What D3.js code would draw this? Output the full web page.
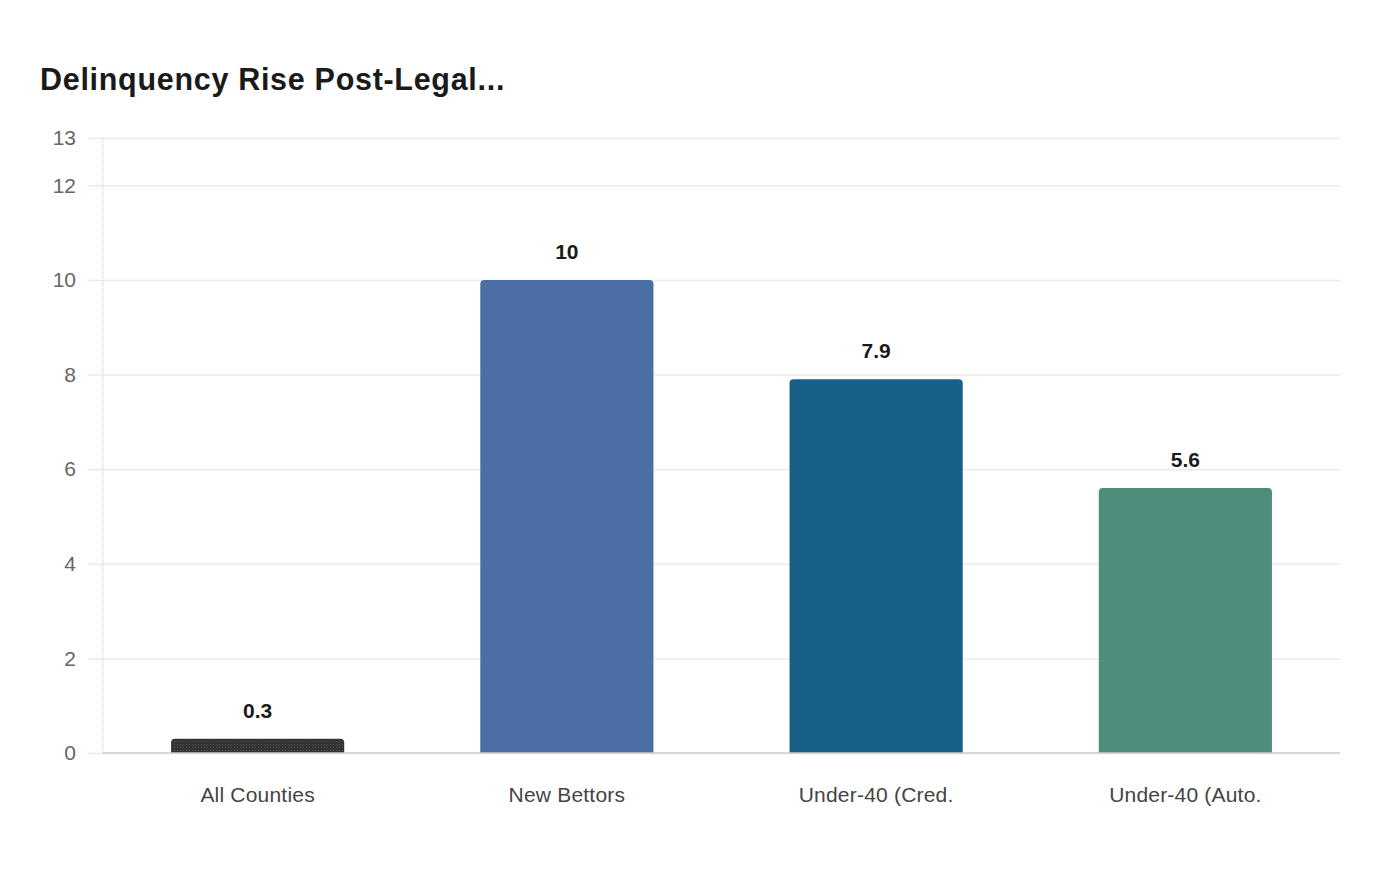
<!DOCTYPE html>
<html>
<head>
<meta charset="utf-8">
<script src="https://cdn.jsdelivr.net/npm/d3@7"></script>
<style>
  body { margin: 0; background: #fff; font-family: "Liberation Sans", Arial, sans-serif; }
</style>
</head>
<body>
<div id="chart"></div>
<script>
// data
const categories = ['All Counties', 'New Bettors', 'Under-40 (Cred.', 'Under-40 (Auto.'];
const values = [0.3, 10, 7.9, 5.6];
const barColors = ['#333333', '#4a6fa5', '#176087', '#4e8d7c'];
const yTicks = [0, 2, 4, 6, 8, 10, 12, 13];

const width = 1400;
const height = 880;
const margin = { top: 138, right: 60, bottom: 127, left: 103 };

const svg = d3.select('#chart').append('svg')
  .attr('width', width)
  .attr('height', height);

// dotted pattern for the dark bar
const defs = svg.append('defs');
const pat = defs.append('pattern')
  .attr('id', 'dots')
  .attr('width', 3)
  .attr('height', 3)
  .attr('patternUnits', 'userSpaceOnUse');
pat.append('rect').attr('width', 3).attr('height', 3).attr('fill', '#333333');
pat.append('rect').attr('width', 1).attr('height', 1).attr('fill', '#555555');

svg.append('text')
  .attr('x', 40)
  .attr('y', 90)
  .attr('font-size', 30.5)
  .attr('font-weight', 'bold')
  .attr('letter-spacing', 0.7)
  .attr('fill', '#1a1a1a')
  .text('Delinquency Rise Post-Legal...');

const x = d3.scaleBand()
  .domain(categories)
  .range([margin.left, width - margin.right])
  .paddingInner(0.44)
  .paddingOuter(0.22);

const y = d3.scaleLinear()
  .domain([0, 13])
  .range([height - margin.bottom, margin.top]);

// gridlines + y tick labels
const yAxis = svg.append('g')
  .attr('transform', `translate(${margin.left},0)`)
  .call(d3.axisLeft(y)
    .tickValues(yTicks)
    .tickSize(-(width - margin.right - margin.left) - 15)
    .tickPadding(12)
    .tickFormat(d3.format('d')));
yAxis.select('.domain').remove();
yAxis.selectAll('.tick line')
  .attr('transform', 'translate(-15,0)')
  .attr('stroke', '#ebebeb')
  .attr('stroke-width', 1.5);
yAxis.selectAll('.tick text')
  .attr('x', -27)
  .attr('font-size', 21)
  .attr('font-family', '"Liberation Sans", Arial, sans-serif')
  .attr('fill', '#666');

// vertical axis line
svg.append('line')
  .attr('x1', margin.left).attr('x2', margin.left)
  .attr('y1', y(13)).attr('y2', y(0))
  .attr('stroke', '#cccccc')
  .attr('stroke-dasharray', '1,1');

// bars with rounded top corners
const r = 4;
function barPath(x0, y0, w, h) {
  const rr = Math.min(r, h, w / 2);
  return `M${x0},${y0 + h}V${y0 + rr}Q${x0},${y0} ${x0 + rr},${y0}` +
    `H${x0 + w - rr}Q${x0 + w},${y0} ${x0 + w},${y0 + rr}V${y0 + h}Z`;
}

const data = categories.map((c, i) => ({ cat: c, value: values[i], color: barColors[i], i: i }));

svg.selectAll('.bar')
  .data(data)
  .enter().append('path')
  .attr('class', 'bar')
  .attr('d', d => barPath(x(d.cat), y(d.value), x.bandwidth(), y(0) - y(d.value)))
  .attr('fill', d => d.i === 0 ? 'url(#dots)' : d.color);

// value labels
svg.selectAll('.val')
  .data(data)
  .enter().append('text')
  .attr('class', 'val')
  .attr('x', d => x(d.cat) + x.bandwidth() / 2)
  .attr('y', d => y(d.value) - 21)
  .attr('text-anchor', 'middle')
  .attr('font-size', 21)
  .attr('font-weight', 'bold')
  .attr('fill', '#1a1a1a')
  .text(d => d3.format('')(d.value));

// baseline
svg.append('line')
  .attr('x1', margin.left).attr('x2', width - margin.right)
  .attr('y1', y(0)).attr('y2', y(0))
  .attr('stroke', '#cccccc')
  .attr('stroke-width', 1.5);

// x labels
svg.selectAll('.xl')
  .data(categories)
  .enter().append('text')
  .attr('class', 'xl')
  .attr('x', d => x(d) + x.bandwidth() / 2)
  .attr('y', y(0) + 49)
  .attr('text-anchor', 'middle')
  .attr('font-size', 21)
  .attr('letter-spacing', 0.2)
  .attr('fill', '#444')
  .text(d => d);
</script>
</body>
</html>
